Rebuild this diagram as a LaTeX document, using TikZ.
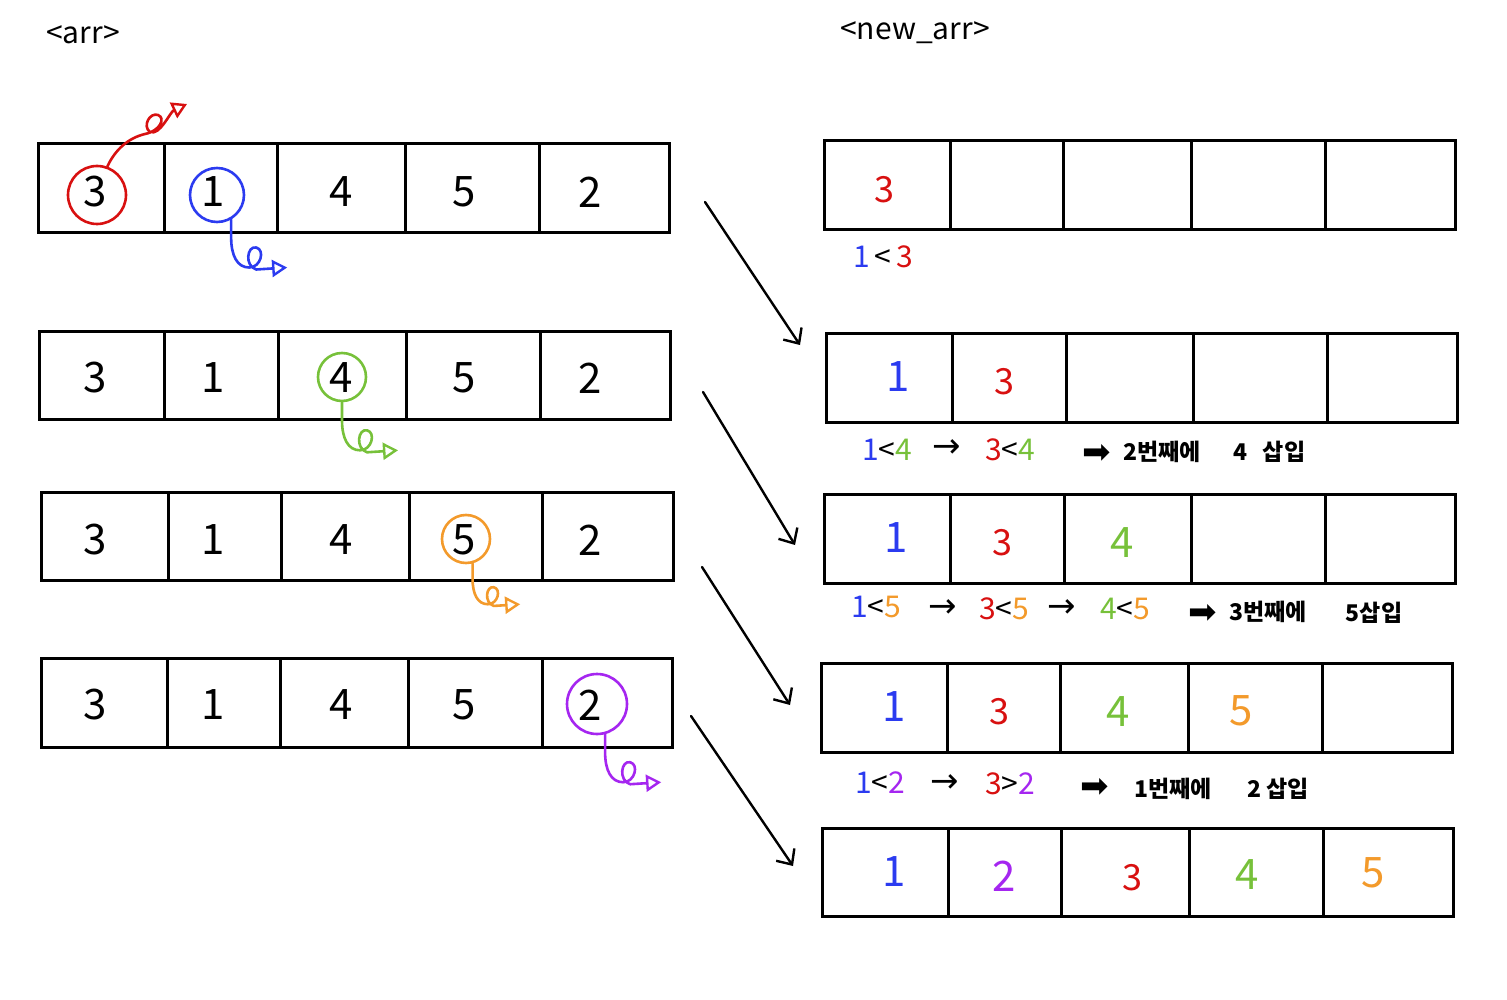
\documentclass[tikz,border=0pt]{standalone}
\usepackage{fontspec}
\setmainfont{Noto Sans CJK KR}
\newfontfamily\symfont{DejaVu Sans}
\usetikzlibrary{arrows.meta}
\definecolor{cred}{HTML}{D81010}
\definecolor{cblue}{HTML}{2B3BF0}
\definecolor{cgreen}{HTML}{77C13A}
\definecolor{corange}{HTML}{F39A2B}
\definecolor{cpurple}{HTML}{A526F0}
\newcommand\cellrow[5]{%
  \draw[box] (#1,#2) rectangle (#3,#4);
  \foreach \d in {#5} {\draw[box] (\d,#2) -- (\d,#4);}}
\begin{document}
\begin{tikzpicture}[x=1pt,y=-1pt,
  box/.style={line width=3pt,black},
  dig/.style={font=\fontsize{42}{44}\selectfont,inner sep=0pt},
  sdig/.style={font=\fontsize{36}{40}\selectfont,inner sep=0pt},
  lbl/.style={font=\fontsize{30}{32}\selectfont,inner sep=0pt},
  kor/.style={font=\fontsize{23}{26}\selectfont\bfseries,inner sep=0pt},
  sar/.style={font=\symfont\fontsize{34}{36}\selectfont,inner sep=0pt},
  bar/.style={font=\symfont\fontsize{34}{36}\selectfont,inner sep=0pt},
  ring/.style={circle,draw,line width=2.6pt,inner sep=0pt},
  pen/.style={line width=2.6pt,line cap=round,line join=round},
  tip/.style={-{Triangle[open,length=15pt,width=17pt,line width=2.4pt]}},
  diag/.style={line width=2.4pt,line cap=round,-{Straight Barb[length=12pt,width=22pt,line width=2.4pt]}},
  squig/.pic={\draw[pen,tip] (0,0) -- (0,18) .. controls (0,36) and (6,48) .. (18,48)
     .. controls (30,48) and (34,30) .. (25,28) .. controls (16,26) and (13,46) .. (25,50) -- (56,48);}
]
\useasboundingbox (0,0) rectangle (1507,1000);
\fill[white] (0,0) rectangle (1507,1000);

% titles
\node[lbl] (t1) at (83,35) {<arr>};
\node[lbl] (t2) at (915,33) {<new\_arr>};

% ---------- left arrays ----------
\cellrow{38}{144}{669}{233}{164,277,405,539}
\cellrow{39}{331}{670}{419}{164,278,406,540}
\cellrow{41}{492}{673}{580}{168,281,409,542}
\cellrow{41}{658}{672}{747}{167,280,408,542}

\foreach \y/\r in {192/a,378/b,540/c,705/d} {
  \node[dig] (l\r1) at (95,\y) {3};
  \node[dig] (l\r2) at (213,\y) {1};
  \node[dig] (l\r3) at (341,\y) {4};
  \node[dig] (l\r4) at (464,\y) {5};
  \node[dig] (l\r5) at (590,\y) {2};
}

% circles
\node[ring,cred,minimum size=58pt] (c1) at (97,195) {};
\node[ring,cblue,minimum size=54pt] (c2) at (217,195) {};
\node[ring,cgreen,minimum size=48pt] (c3) at (342,377) {};
\node[ring,corange,minimum size=48pt] (c4) at (466,539) {};
\node[ring,cpurple,minimum size=60pt] (c5) at (597,704) {};

% squiggles
\draw[pen,tip,cred] (c1.70) .. controls (115,150) and (128,138) .. (145,134)
   .. controls (160,131) and (166,118) .. (158,115) .. controls (150,112) and (142,126) .. (150,132)
   .. controls (160,136) and (170,112) .. (187,104);
\pic[cblue] at (c2.300) {squig};
\pic[cgreen] at (c3.south) {squig};
\pic[corange,scale=0.85] at (c4.285) {squig};
\pic[cpurple] at (c5.285) {squig};

% ---------- diagonal arrows ----------
\coordinate (d1s) at (705,202); \coordinate (d1e) at (800,345);
\coordinate (d2s) at (703,392); \coordinate (d2e) at (795,545);
\coordinate (d3s) at (702,567); \coordinate (d3e) at (790,705);
\coordinate (d4s) at (691,716); \coordinate (d4e) at (793,866);
\draw[diag] (d1s) -- (d1e);
\draw[diag] (d2s) -- (d2e);
\draw[diag] (d3s) -- (d3e);
\draw[diag] (d4s) -- (d4e);

% ---------- right arrays ----------
\cellrow{824}{141}{1455}{230}{950,1063,1191,1325}
\cellrow{826}{333}{1457}{422}{952,1066,1193,1327}
\cellrow{824}{494}{1455}{583}{950,1064,1191,1325}
\cellrow{821}{663}{1452}{752}{947,1060,1188,1322}
\cellrow{822}{828}{1453}{916}{948,1061,1189,1323}

\node[sdig,cred] (r11) at (884,190) {3};

\node[dig,cblue] (r21) at (898,377) {1};
\node[sdig,cred] (r22) at (1004,382) {3};

\node[dig,cblue] (r31) at (896,538) {1};
\node[sdig,cred] (r32) at (1002,543) {3};
\node[dig,cgreen] (r33) at (1122,543) {4};

\node[dig,cblue] (r41) at (894,707) {1};
\node[sdig,cred] (r42) at (999,712) {3};
\node[dig,cgreen] (r43) at (1118,712) {4};
\node[dig,corange] (r44) at (1241,711) {5};

\node[dig,cblue] (r51) at (894,872) {1};
\node[dig,cpurple] (r52) at (1004,876) {2};
\node[sdig,cred] (r53) at (1132,878) {3};
\node[dig,cgreen] (r54) at (1247,875) {4};
\node[dig,corange] (r55) at (1373,873) {5};

% ---------- labels ----------
\node[lbl] (e1) at (883,257) {\textcolor{cblue}{1}\,<\,\textcolor{cred}{3}};

\node[lbl] (e2a) at (887,450) {\textcolor{cblue}{1}<\textcolor{cgreen}{4}};
\node[sar] (e2b) at (947,449) {→};
\node[lbl] (e2c) at (1010,450) {\textcolor{cred}{3}<\textcolor{cgreen}{4}};
\node[bar] (e2d) at (1097,454) {➡};
\node[kor] (e2e) at (1162,452) {2번째에};
\node[kor] (e2f) at (1240,452) {4};
\node[kor] (e2g) at (1284,452) {삽입};

\node[lbl] (e3a) at (876,607) {\textcolor{cblue}{1}<\textcolor{corange}{5}};
\node[sar] (e3b) at (943,609) {→};
\node[lbl] (e3c) at (1004,609) {\textcolor{cred}{3}<\textcolor{corange}{5}};
\node[sar] (e3d) at (1062,609) {→};
\node[lbl] (e3e) at (1125,609) {\textcolor{cgreen}{4}<\textcolor{corange}{5}};
\node[bar] (e3f) at (1203,614) {➡};
\node[kor] (e3g) at (1268,612) {3번째에};
\node[kor] (e3h) at (1374,613) {5삽입};

\node[lbl] (e4a) at (880,783) {\textcolor{cblue}{1}<\textcolor{cpurple}{2}};
\node[sar] (e4b) at (945,784) {→};
\node[lbl] (e4c) at (1010,784) {\textcolor{cred}{3}>\textcolor{cpurple}{2}};
\node[bar] (e4d) at (1095,788) {➡};
\node[kor] (e4e) at (1173,789) {1번째에};
\node[kor] (e4f) at (1278,789) {2 삽입};
\end{tikzpicture}
\end{document}
